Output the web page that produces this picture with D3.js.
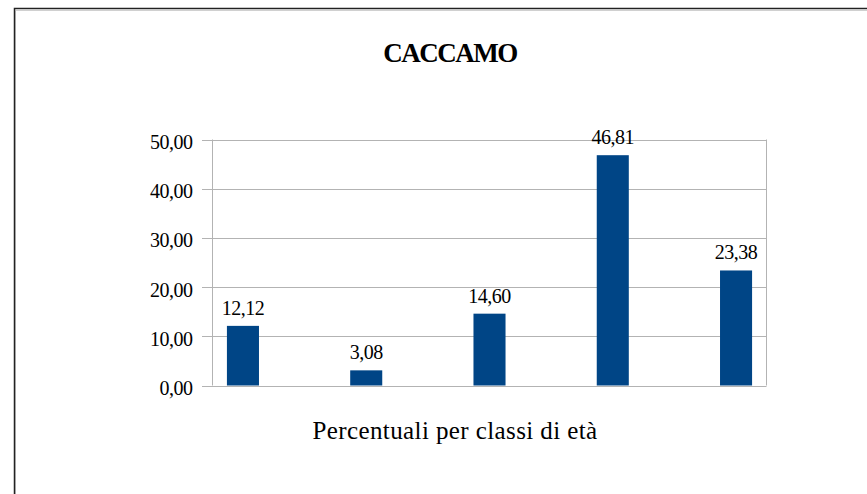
<!DOCTYPE html>
<html><head><meta charset="utf-8">
<script src="https://cdn.jsdelivr.net/npm/d3@7"></script>
<style>html,body{margin:0;padding:0;background:#fff;}svg{display:block;}</style>
</head><body>
<svg id="c" width="867" height="494"></svg>
<script>
const categories = ["A", "B", "C", "D", "E"];
const values = [12.12, 3.08, 14.60, 46.81, 23.38];
const yTicks = [0, 10, 20, 30, 40, 50];
const title = "CACCAMO";
const xTitle = "Percentuali per classi di età";

const svg = d3.select("#c");
const font = "'Liberation Serif', 'Times New Roman', serif";
const fmt = v => v.toFixed(2).replace(".", ",");

// frame
svg.append("path").attr("d", "M14.5,494 V9.5 H867").attr("fill", "none").attr("stroke", "#d0d0d0").attr("stroke-width", 1).attr("transform", "translate(1,1)");
svg.append("path").attr("d", "M14.5,494 V8.5 H867").attr("fill", "none").attr("stroke", "#222").attr("stroke-width", 1.5);

const L = 212.5, R = 766.5, T = 139.5, B = 385.5;
const x = d3.scaleBand().domain(categories).range([L, R]).paddingInner(0.74).paddingOuter(0.117);
const y = d3.scaleLinear().domain([0, 50]).range([B, T]);

// gridlines
svg.append("g").selectAll("line").data(yTicks).join("line")
  .attr("x1", 202).attr("x2", R).attr("y1", d => Math.round(y(d)) + 0.5).attr("y2", d => Math.round(y(d)) + 0.5)
  .attr("stroke", "#b3b3b3").attr("stroke-width", 1);
// axis & right border
svg.append("line").attr("x1", L).attr("x2", L).attr("y1", T).attr("y2", B).attr("stroke", "#b3b3b3");
svg.append("line").attr("x1", R).attr("x2", R).attr("y1", T).attr("y2", B).attr("stroke", "#b3b3b3");

// y tick labels
svg.append("g").selectAll("text").data(yTicks).join("text")
  .attr("x", 192.5).attr("y", d => y(d) + 9.5).attr("text-anchor", "end")
  .attr("font-family", font).attr("font-size", 20).attr("letter-spacing", -0.5).attr("fill", "#000")
  .text(d => fmt(d));

// bars
svg.append("g").selectAll("rect").data(values).join("rect")
  .attr("x", (d, i) => x(categories[i])).attr("width", x.bandwidth())
  .attr("y", d => y(d)).attr("height", d => y(0) - y(d))
  .attr("fill", "#004586");

// value labels
svg.append("g").selectAll("text").data(values).join("text")
  .attr("x", (d, i) => x(categories[i]) + x.bandwidth() / 2).attr("y", d => y(d) - 11)
  .attr("text-anchor", "middle").attr("font-family", font).attr("font-size", 20).attr("letter-spacing", -0.5).attr("fill", "#000")
  .text(d => fmt(d));

// titles
svg.append("text").attr("x", 450).attr("y", 62).attr("text-anchor", "middle")
  .attr("font-family", font).attr("font-size", 27).attr("font-weight", "bold").attr("letter-spacing", -1.5).text(title);
svg.append("text").attr("x", 455).attr("y", 439).attr("text-anchor", "middle")
  .attr("font-family", font).attr("font-size", 25).attr("letter-spacing", 0.4).text(xTitle);
</script>
</body></html>
